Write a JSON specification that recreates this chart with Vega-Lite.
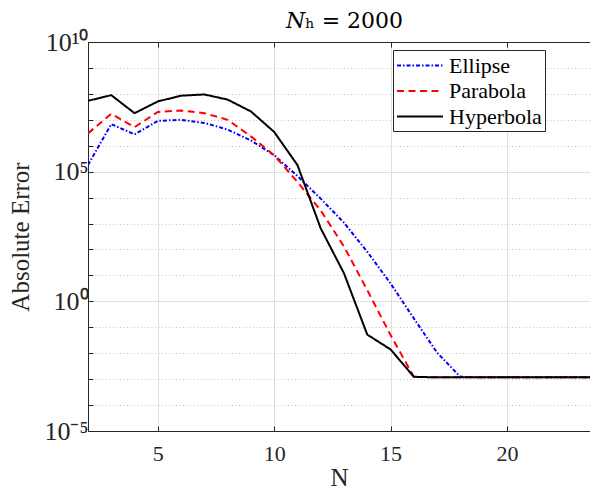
{
"$schema": "https://vega.github.io/schema/vega-lite/v6.json",
"width": 502,
"height": 389,
"autosize": {"type": "none"},
"padding": {"left": 88, "top": 42, "right": 0, "bottom": 60},
"background": "white",
"config": {"view": {"stroke": null}, "font": "Liberation Serif"},
"data": {"values": [
{"N": 2, "method": "Ellipse", "err": 1.8e5},
{"N": 3, "method": "Ellipse", "err": 6.8e6},
{"N": 4, "method": "Ellipse", "err": 2.75e6},
{"N": 5, "method": "Ellipse", "err": 9.1e6},
{"N": 6, "method": "Ellipse", "err": 1.0e7},
{"N": 7, "method": "Ellipse", "err": 7.6e6},
{"N": 8, "method": "Ellipse", "err": 4.2e6},
{"N": 9, "method": "Ellipse", "err": 1.6e6},
{"N": 10, "method": "Ellipse", "err": 4.3e5},
{"N": 11, "method": "Ellipse", "err": 6.8e4},
{"N": 12, "method": "Ellipse", "err": 9.1e3},
{"N": 13, "method": "Ellipse", "err": 1.07e3},
{"N": 14, "method": "Ellipse", "err": 81},
{"N": 15, "method": "Ellipse", "err": 4.9},
{"N": 16, "method": "Ellipse", "err": 0.22},
{"N": 17, "method": "Ellipse", "err": 1.05e-2},
{"N": 18, "method": "Ellipse", "err": 1.23e-3},
{"N": 19, "method": "Ellipse", "err": 1.17e-3},
{"N": 20, "method": "Ellipse", "err": 1.17e-3},
{"N": 21, "method": "Ellipse", "err": 1.17e-3},
{"N": 22, "method": "Ellipse", "err": 1.17e-3},
{"N": 23, "method": "Ellipse", "err": 1.17e-3},
{"N": 24, "method": "Ellipse", "err": 1.17e-3},
{"N": 2, "method": "Parabola", "err": 3.0e6},
{"N": 3, "method": "Parabola", "err": 1.7e7},
{"N": 4, "method": "Parabola", "err": 5.2e6},
{"N": 5, "method": "Parabola", "err": 2.0e7},
{"N": 6, "method": "Parabola", "err": 2.3e7},
{"N": 7, "method": "Parabola", "err": 1.8e7},
{"N": 8, "method": "Parabola", "err": 1.0e7},
{"N": 9, "method": "Parabola", "err": 2.3e6},
{"N": 10, "method": "Parabola", "err": 4.3e5},
{"N": 11, "method": "Parabola", "err": 4.0e4},
{"N": 12, "method": "Parabola", "err": 3.2e3},
{"N": 13, "method": "Parabola", "err": 1.3e2},
{"N": 14, "method": "Parabola", "err": 2.7},
{"N": 15, "method": "Parabola", "err": 5.0e-2},
{"N": 16, "method": "Parabola", "err": 1.23e-3},
{"N": 17, "method": "Parabola", "err": 1.17e-3},
{"N": 18, "method": "Parabola", "err": 1.17e-3},
{"N": 19, "method": "Parabola", "err": 1.17e-3},
{"N": 20, "method": "Parabola", "err": 1.17e-3},
{"N": 21, "method": "Parabola", "err": 1.17e-3},
{"N": 22, "method": "Parabola", "err": 1.17e-3},
{"N": 23, "method": "Parabola", "err": 1.17e-3},
{"N": 24, "method": "Parabola", "err": 1.17e-3},
{"N": 2, "method": "Hyperbola", "err": 5.4e7},
{"N": 3, "method": "Hyperbola", "err": 8.9e7},
{"N": 4, "method": "Hyperbola", "err": 1.8e7},
{"N": 5, "method": "Hyperbola", "err": 5.1e7},
{"N": 6, "method": "Hyperbola", "err": 8.5e7},
{"N": 7, "method": "Hyperbola", "err": 9.5e7},
{"N": 8, "method": "Hyperbola", "err": 6.0e7},
{"N": 9, "method": "Hyperbola", "err": 2.1e7},
{"N": 10, "method": "Hyperbola", "err": 3.4e6},
{"N": 11, "method": "Hyperbola", "err": 1.8e5},
{"N": 12, "method": "Hyperbola", "err": 6.5e2},
{"N": 13, "method": "Hyperbola", "err": 12},
{"N": 14, "method": "Hyperbola", "err": 5.2e-2},
{"N": 15, "method": "Hyperbola", "err": 1.4e-2},
{"N": 16, "method": "Hyperbola", "err": 1.23e-3},
{"N": 17, "method": "Hyperbola", "err": 1.17e-3},
{"N": 18, "method": "Hyperbola", "err": 1.17e-3},
{"N": 19, "method": "Hyperbola", "err": 1.17e-3},
{"N": 20, "method": "Hyperbola", "err": 1.17e-3},
{"N": 21, "method": "Hyperbola", "err": 1.17e-3},
{"N": 22, "method": "Hyperbola", "err": 1.17e-3},
{"N": 23, "method": "Hyperbola", "err": 1.17e-3},
{"N": 24, "method": "Hyperbola", "err": 1.17e-3}
]},
"layer": [
{
"mark": {"type": "line", "clip": true, "strokeWidth": 2},
"encoding": {
"x": {"field": "N", "type": "quantitative", "scale": {"domain": [2, 23.57], "nice": false, "zero": false},
"axis": {"values": [5, 10, 15, 20], "grid": true, "gridColor": "#dfdfdf", "gridWidth": 1, "domainColor": "#262626", "domainWidth": 1, "tickColor": "#262626", "tickSize": -5, "labelFontSize": 22, "labelColor": "#262626", "labelFont": "Liberation Serif", "labelPadding": 17, "labelFlush": false, "labelOverlap": false, "title": "N", "titleFont": "Liberation Serif", "titleFontSize": 25, "titleFontWeight": "normal", "titleColor": "#262626", "titlePadding": 1}},
"y": {"field": "err", "type": "quantitative", "scale": {"type": "log", "domain": [0.00001, 10000000000], "nice": false},
"axis": {"values": [0.00001, 0.0001, 0.001, 0.01, 0.1, 1, 10, 100, 1000, 10000, 100000, 1000000, 10000000, 100000000, 1000000000, 10000000000],
"labelExpr": "datum.value == 10000000000 ? '10¹⁰' : datum.value == 100000 ? '10⁵' : datum.value == 1 ? '10⁰' : datum.value == 0.00001 ? '10⁻⁵' : ''",
"labelOverlap": false, "labelFlush": false,
"grid": true,
"gridColor": {"condition": {"test": "datum.value == 100000 || datum.value == 1", "value": "#dfdfdf"}, "value": "#c4c4c4"},
"gridDash": {"condition": {"test": "datum.value == 100000 || datum.value == 1", "value": []}, "value": [1, 2.5]},
"domainColor": "#262626", "domainWidth": 1, "tickColor": "#262626", "tickSize": -5,
"labelFont": "Liberation Serif", "labelFontSize": 26, "labelColor": "#262626", "labelPadding": 5,
"title": "Absolute Error", "titleFont": "Liberation Serif", "titleFontSize": 25, "titleFontWeight": "normal", "titleColor": "#262626", "titlePadding": 10}},
"color": {"field": "method", "type": "nominal", "scale": {"domain": ["Ellipse", "Parabola", "Hyperbola"], "range": ["#0000ff", "#ff0000", "#000000"]},
"legend": {"title": null, "orient": "none", "legendX": 305, "legendY": 8, "direction": "vertical", "symbolType": "M-1,0H3", "symbolSize": 529, "symbolStrokeWidth": 2, "labelFont": "Liberation Serif", "labelFontSize": 22, "labelColor": "black", "fillColor": "white", "strokeColor": "#262626", "padding": 3, "rowPadding": 1.5, "labelOffset": 28, "labelLimit": 0}},
"strokeDash": {"field": "method", "type": "nominal", "scale": {"domain": ["Ellipse", "Parabola", "Hyperbola"], "range": [[4, 2, 1.5, 2], [7, 4.5], [1, 0]]},
"legend": {"title": null, "orient": "none", "legendX": 305, "legendY": 8, "direction": "vertical", "symbolType": "M-1,0H3", "symbolSize": 529, "symbolStrokeWidth": 2, "labelFont": "Liberation Serif", "labelFontSize": 22, "labelColor": "black", "fillColor": "white", "strokeColor": "#262626", "padding": 3, "rowPadding": 1.5, "labelOffset": 28, "labelLimit": 0}}
}
},
{
"mark": {"type": "point", "opacity": 0},
"encoding": {
"x": {"field": "N", "type": "quantitative", "axis": {"orient": "top", "values": [5, 10, 15, 20], "labels": false, "grid": false, "tickSize": -5, "tickColor": "#262626", "domainColor": "#262626", "domainWidth": 1, "title": "𝑁ₕ = 2000", "titleFont": "DejaVu Serif", "titleFontSize": 22, "titleFontWeight": "normal", "titleColor": "black", "titlePadding": 9, "titleX": 256, "titleAlign": "center"}}
}
}
],
"resolve": {"axis": {"x": "independent"}}
}
